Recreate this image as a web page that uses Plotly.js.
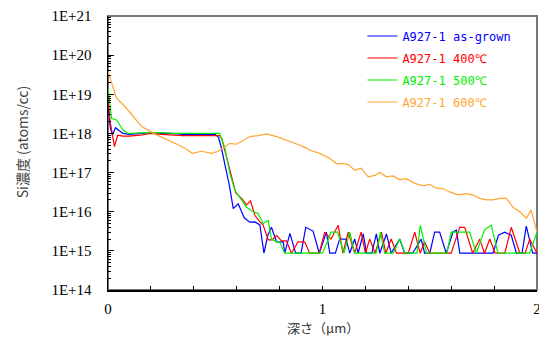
<!DOCTYPE html>
<html>
<head>
<meta charset="utf-8">
<script src="https://cdn.plot.ly/plotly-3.0.1.min.js"></script>
<style>html,body{margin:0;padding:0;background:#fff;}#chart{width:539px;height:342px;}</style>
</head>
<body>
<div id="chart"></div>
<script>
// Series names
const seriesNames = ['A927-1 as-grown', 'A927-1 400℃', 'A927-1 500℃', 'A927-1 600℃'];

// Depth (μm) and Si concentration (atoms/cc) for each series
const xBlue = [0,0.01,0.02,0.035,0.05,0.07,0.1,0.15,0.2,0.25,0.3,0.35,0.4,0.45,0.5,0.515,0.53,0.545,0.565,0.584,0.607,0.635,0.661,0.685,0.708,0.727,0.745,0.762,0.786,0.817,0.824,0.848,0.875,0.9,0.922,0.956,0.985,1.018,1.034,1.06,1.08,1.11,1.127,1.15,1.166,1.19,1.205,1.23,1.251,1.267,1.298,1.32,1.36,1.383,1.42,1.46,1.476,1.5,1.523,1.546,1.577,1.608,1.624,1.64,1.7,1.75,1.795,1.82,1.849,1.88,1.904,1.93,1.95,1.98,2.0];
const yBlue = [5e18,1.5e18,9e17,1.4e18,1.2e18,1.0e18,9.5e17,1.0e18,1.05e18,1.0e18,1.0e18,9.5e17,9.5e17,9.5e17,9.5e17,8e17,4e17,1.6e17,5e16,1.2e16,1.6e16,7e15,5.4e15,5.5e15,4.6e15,8.7e14,2.5e15,4e15,1.7e15,1.7e15,8.7e14,2.8e15,8.7e14,8.7e14,4e15,3.2e15,8.7e14,3e15,8.7e14,8.7e14,2e15,2e15,8.7e14,2e15,8.7e14,2.7e15,8.7e14,8.7e14,2.7e15,8.7e14,2.7e15,8.7e14,2e15,8.7e14,8.7e14,2e15,8.7e14,8.7e14,3e15,3e15,8.7e14,3e15,3.4e15,8.7e14,8.7e14,8.7e14,8.7e14,2.5e15,3e15,2.5e15,8.7e14,8.7e14,4.3e15,8.7e14,8.7e14];

const xRed = [0,0.01,0.03,0.045,0.07,0.1,0.15,0.2,0.25,0.3,0.35,0.4,0.45,0.5,0.52,0.53,0.56,0.596,0.623,0.646,0.664,0.685,0.708,0.723,0.747,0.765,0.786,0.809,0.832,0.855,0.886,0.917,0.94,0.985,1.01,1.04,1.073,1.095,1.12,1.15,1.18,1.2,1.22,1.245,1.275,1.295,1.32,1.345,1.4,1.43,1.455,1.476,1.5,1.55,1.6,1.64,1.663,1.70,1.733,1.755,1.78,1.805,1.85,1.88,1.92,1.945,1.966,2.0];
const yRed = [8e18,2e18,4.6e17,9e17,8.5e17,8.5e17,9e17,1e18,9.5e17,9e17,8.8e17,8.8e17,8.8e17,8.8e17,8.8e17,7.5e17,1.6e17,3e16,2.2e16,1.5e16,1.9e16,8e15,5.5e15,4.6e15,1.9e15,1.9e15,2.5e15,1.8e15,1.8e15,8.7e14,1.7e15,1.7e15,8.7e14,8.7e14,3e15,2e15,4.5e15,8.7e14,3e15,8.7e14,3e15,8.7e14,2e15,8.7e14,3e15,8.7e14,2e15,8.7e14,8.7e14,3e15,8.7e14,1.7e15,8.7e14,8.7e14,8.7e14,4e15,4e15,8.7e14,2e15,8.7e14,2e15,8.7e14,8.7e14,4e15,8.7e14,8.7e14,2e15,8.7e14];

const xGreen = [0,0.017,0.04,0.071,0.095,0.15,0.19,0.25,0.3,0.35,0.4,0.45,0.498,0.52,0.545,0.568,0.592,0.623,0.646,0.677,0.70,0.723,0.747,0.762,0.786,0.80,0.824,1.0,1.04,1.07,1.10,1.127,1.15,1.25,1.27,1.29,1.33,1.36,1.385,1.44,1.456,1.485,1.58,1.60,1.686,1.717,1.756,1.787,1.818,1.966,2.0];
const yGreen = [1.4e19,2.4e18,2.2e18,1.2e18,1e18,1.05e18,1.05e18,1.05e18,1e18,1e18,1e18,1e18,1e18,1e18,4.2e17,9.5e16,3.5e16,2e16,1.3e16,1e16,9e15,5e15,6e15,2e15,1.7e15,1.7e15,8.7e14,8.7e14,3e15,3e15,8.7e14,3e15,8.7e14,8.7e14,3e15,8.7e14,8.7e14,2e15,8.7e14,8.7e14,4.5e15,8.7e14,8.7e14,3e15,3e15,8.7e14,3.5e15,4.5e15,8.7e14,8.7e14,3e15];

const xOrange = [0,0.04,0.08,0.11,0.157,0.219,0.265,0.312,0.359,0.393,0.436,0.483,0.514,0.545,0.568,0.599,0.63,0.661,0.70,0.739,0.786,0.832,0.871,0.91,0.949,0.987,1.034,1.065,1.096,1.12,1.15,1.18,1.213,1.244,1.267,1.298,1.329,1.36,1.391,1.43,1.469,1.50,1.53,1.562,1.593,1.632,1.67,1.70,1.733,1.764,1.795,1.826,1.857,1.888,1.92,1.95,1.973,2.0];
const yOrange = [3.8e19,7.9e18,4.8e18,3e18,1.5e18,9.6e17,7.5e17,5.6e17,4.2e17,3.1e17,3.5e17,3.1e17,3.5e17,4.6e17,5.6e17,5.3e17,6.8e17,8.3e17,8.8e17,9.7e17,8.3e17,6.8e17,5.6e17,4.6e17,3.6e17,3.1e17,2.3e17,1.7e17,1.7e17,1.6e17,1.15e17,1.3e17,7.8e16,8.5e16,1e17,7.8e16,8.2e16,6.5e16,7e16,5.3e16,4.6e16,5e16,4e16,3.9e16,3.2e16,2.7e16,2.9e16,2.7e16,2.2e16,2e16,2e16,2.2e16,2.2e16,1.3e16,1e16,6.8e15,1.1e16,3e15];

// Axis ticks
const yTickVals = [1e14,1e15,1e16,1e17,1e18,1e19,1e20,1e21];
const yTickText = ['1E+14','1E+15','1E+16','1E+17','1E+18','1E+19','1E+20','1E+21'];
const xTickVals = [0,1,2];
const xTickText = ['0','1','2'];
const xMinorTicks = [0.2,0.4,0.6,0.8,1.2,1.4,1.6,1.8];
const yMinorTicks = [];
for (let e = 14; e < 21; e++) for (let d = 2; d <= 9; d++) yMinorTicks.push(d * Math.pow(10, e));

const colors = ['#0000FF','#FF0000','#00F000','#FFA530'];
const xs = [xBlue, xRed, xGreen, xOrange];
const ys = [yBlue, yRed, yGreen, yOrange];

const traces = seriesNames.map((n, i) => ({
  type: 'scatter', mode: 'lines',
  x: xs[i], y: ys[i],
  name: '<span style="color:' + colors[i] + '">' + n + '</span>',
  legendgroup: 'g' + i,
  line: {color: colors[i], width: 1.2}
}));

const serif = 'Liberation Serif';

const layout = {
  width: 539, height: 342,
  margin: {l: 108, r: 2, t: 16, b: 52},
  paper_bgcolor: '#fff', plot_bgcolor: '#fff',
  font: {family: serif, size: 15, color: '#000'},
  showlegend: true,
  legend: {
    x: 0.593, y: 0.98, xanchor: 'left', yanchor: 'top',
    bgcolor: 'rgba(0,0,0,0)', borderwidth: 0,
    font: {family: 'DejaVu Sans Mono', size: 12},
    traceorder: 'grouped', tracegroupgap: 3
  },
  xaxis: {
    range: [0, 2], tickmode: 'array', tickvals: xTickVals, ticktext: xTickText,
    ticks: 'inside', ticklen: 4, tickcolor: '#000', tickwidth: 1,
    showline: true, linecolor: '#000', linewidth: 1.5,
    showgrid: false, zeroline: false,
    ticklabelstandoff: 4, ticklabeloverflow: 'allow',
    tickfont: {family: serif, size: 15, color: '#000'},
    minor: {tickmode: 'array', tickvals: xMinorTicks, ticks: 'inside', ticklen: 4, tickcolor: '#000', showgrid: false}
  },
  yaxis: {
    type: 'log', range: [14, 21], tickmode: 'array', tickvals: yTickVals, ticktext: yTickText,
    ticks: 'inside', ticklen: 6, tickcolor: '#000', tickwidth: 1,
    showline: true, linecolor: '#000', linewidth: 1.5,
    showgrid: false, zeroline: false,
    ticklabelstandoff: 12,
    tickfont: {family: serif, size: 15, color: '#000'},
    minor: {tickmode: 'array', tickvals: yMinorTicks, ticks: 'inside', ticklen: 3, tickcolor: '#000', showgrid: false}
  },
  shapes: [{
    type: 'rect', xref: 'paper', yref: 'paper', x0: 0, x1: 1, y0: 0, y1: 1,
    line: {color: '#777', width: 2}, layer: 'below'
  }],
  annotations: [
    {text: 'Si濃度 (atoms/cc)', xref: 'paper', yref: 'paper', x: -0.2, y: 0.54,
     textangle: -90, showarrow: false, xanchor: 'center', yanchor: 'middle',
     font: {family: 'Noto Sans CJK JP', size: 14, color: '#444'}},
    {text: '深さ（μm）', xref: 'paper', yref: 'paper', x: 0.5, y: -0.138,
     showarrow: false, xanchor: 'center', yanchor: 'middle',
     font: {family: 'Noto Sans CJK JP', size: 13, color: '#333'}}
  ]
};

Plotly.newPlot('chart', traces, layout, {displayModeBar: false, staticPlot: true});
</script>
</body>
</html>
